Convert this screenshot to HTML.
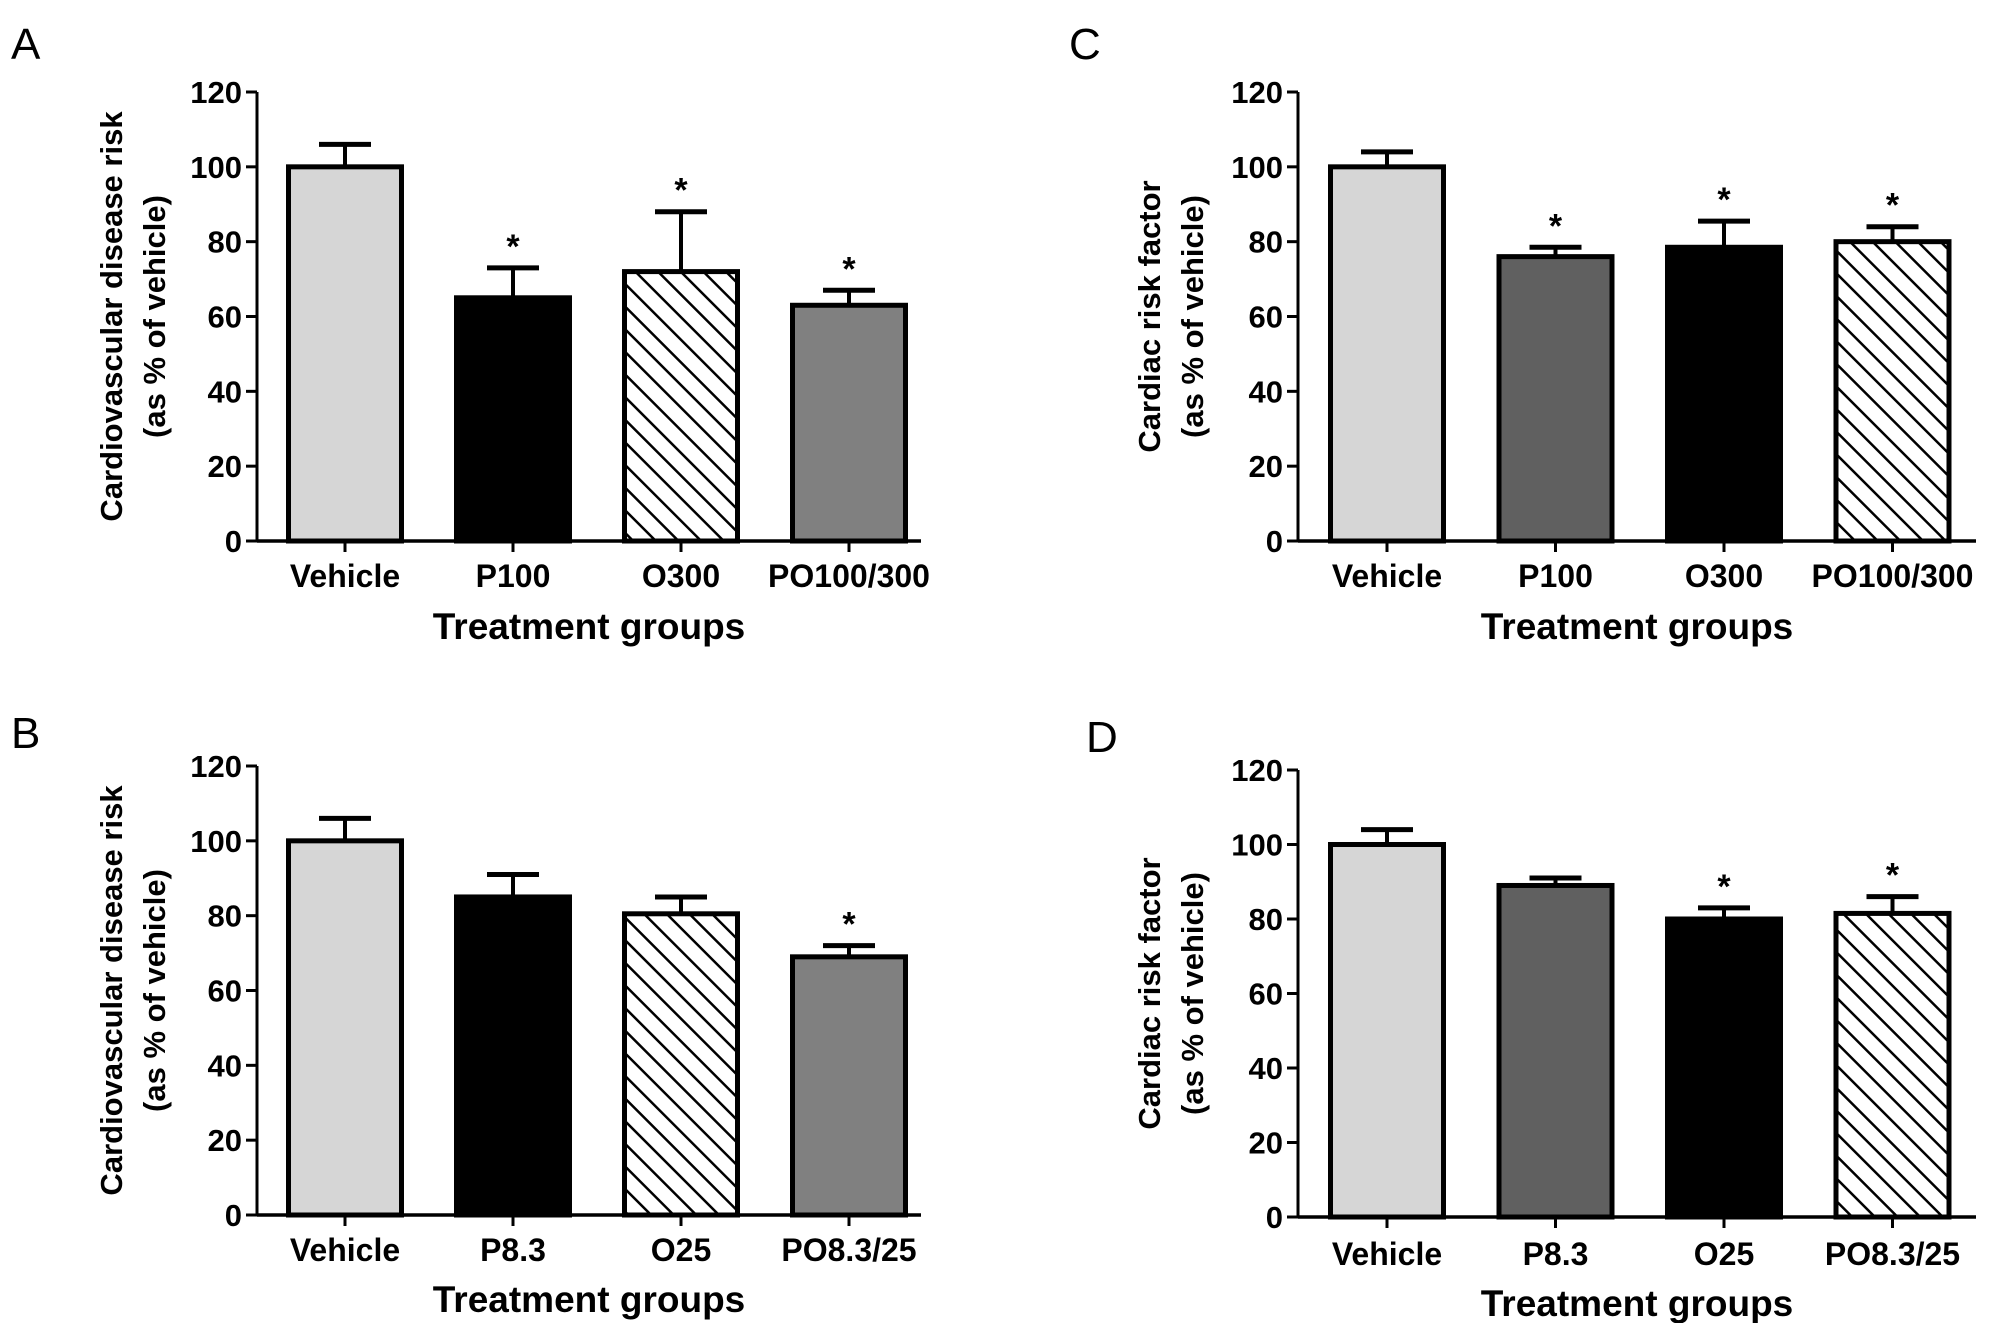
<!DOCTYPE html>
<html><head><meta charset="utf-8">
<style>
html,body{margin:0;padding:0;background:#fff;}
svg{display:block;font-family:"Liberation Sans",Arial,sans-serif;}
</style></head>
<body>
<svg id="fig" width="2008" height="1323" viewBox="0 0 2008 1323" xmlns="http://www.w3.org/2000/svg">
<defs>
<pattern id="hatch" patternUnits="userSpaceOnUse" width="16" height="16" patternTransform="rotate(-45)">
<rect width="16" height="16" fill="#fff"/>
<line x1="0" y1="0" x2="0" y2="16" stroke="#000" stroke-width="5"/>
</pattern>
</defs>
</svg>
<script>
const yTicks = [0,20,40,60,80,100,120];
const catsA = ["Vehicle","P100","O300","PO100/300"];
const valsA = [100,65,72,63];
const errA = [6,8,16,4];
const starA = [false,true,true,true];
const catsB = ["Vehicle","P8.3","O25","PO8.3/25"];
const valsB = [100,85,80.5,69];
const errB = [6,6,4.5,3];
const starB = [false,false,false,true];
const catsC = ["Vehicle","P100","O300","PO100/300"];
const valsC = [100,76,78.5,80];
const errC = [4,2.5,7,4];
const starC = [false,true,true,true];
const catsD = ["Vehicle","P8.3","O25","PO8.3/25"];
const valsD = [100,89,80,81.5];
const errD = [4,2,3,4.5];
const starD = [false,false,true,true];

const NS="http://www.w3.org/2000/svg";
const svg=document.getElementById('fig');
function mk(tag,attrs,parent){const e=document.createElementNS(NS,tag);for(const k in attrs)e.setAttribute(k,attrs[k]);(parent||svg).appendChild(e);return e;}

function panel(cfg){
  const g=mk('g',{});
  
  
  const y=v=>cfg.y0-(v/120)*(cfg.y0-cfg.y120);
  const xc=i=>cfg.firstC+i*cfg.step;
  const L=mk('text',{x:cfg.lx,y:cfg.ly,'font-size':44,fill:'#000'},g);L.textContent=cfg.letter;
  
  
  cfg.vals.forEach((v,i)=>{
    const x=xc(i)-cfg.bw/2;
    const top=y(v), et=y(v+cfg.err[i]);
    const eb=mk('line',{x1:xc(i),x2:xc(i),y1:top,y2:et,stroke:'#000','stroke-width':4},g);
    
    
    const cap=mk('line',{x1:xc(i)-26,x2:xc(i)+26,y1:et,y2:et,stroke:'#000','stroke-width':5},g);
    
    
    const r=mk('rect',{x:x,y:top,width:cfg.bw,height:cfg.y0-top,fill:cfg.fills[i],stroke:'#000','stroke-width':5},g);
    
    
    if(cfg.star[i]){
      const s=mk('text',{x:xc(i),y:et-10,'font-size':34,'font-weight':'bold','text-anchor':'middle'},g);s.textContent='*';
      
      
    }
    const tk=mk('line',{x1:xc(i),x2:xc(i),y1:cfg.y0,y2:cfg.y0+11,stroke:'#000','stroke-width':3},g);
    
    
    const t=mk('text',{x:xc(i),y:cfg.catY+2,'font-size':32,'font-weight':'bold','text-anchor':'middle',fill:'#000'},g);t.textContent=cfg.cats[i];
    
    
  });
  const ya=mk('line',{x1:cfg.ax,x2:cfg.ax,y1:cfg.y120,y2:cfg.y0+1.5,stroke:'#000','stroke-width':3},g);
  
  
  const xa=mk('line',{x1:cfg.ax,x2:cfg.xend,y1:cfg.y0,y2:cfg.y0,stroke:'#000','stroke-width':3.5},g);
  
  
  yTicks.forEach(v=>{
    const tk=mk('line',{x1:cfg.ax-11,x2:cfg.ax,y1:y(v),y2:y(v),stroke:'#000','stroke-width':3},g);
    
    
    const t=mk('text',{x:cfg.ax-15,y:y(v)+11,'font-size':31,'font-weight':'bold','text-anchor':'end'},g);t.textContent=v;
    
    
  });
  const xt=mk('text',{x:(cfg.ax+cfg.xend)/2,y:cfg.titleY+2,'font-size':37,'font-weight':'bold','text-anchor':'middle'},g);xt.textContent='Treatment groups';
  
  
  const cy=(cfg.y0+cfg.y120)/2;
  const yt=mk('text',{transform:`translate(${cfg.yt1},${cy}) rotate(-90)`,'font-size':31,'font-weight':'bold','text-anchor':'middle'},g);yt.textContent=cfg.ytitle;
  
  
  const yt2=mk('text',{transform:`translate(${cfg.yt2},${cy}) rotate(-90)`,'font-size':31,'font-weight':'bold','text-anchor':'middle'},g);yt2.textContent='(as % of vehicle)';
  
  
}
const LG='#d6d6d6', DG='#606060', MG='#808080', BK='#000', HT='url(#hatch)';
const left={ax:257,xend:921,firstC:345,step:168,bw:113,yt1:122,yt2:165};
const right={ax:1298,xend:1976,firstC:1387,step:168.5,bw:113,yt1:1160,yt2:1203};
panel(Object.assign({},left,{letter:'A',lx:11,ly:59,y0:541,y120:92,catY:585,titleY:637,cats:catsA,vals:valsA,err:errA,star:starA,fills:[LG,BK,HT,MG],ytitle:'Cardiovascular disease risk'}));
panel(Object.assign({},left,{letter:'B',lx:11,ly:748,y0:1215,y120:766,catY:1259,titleY:1310,cats:catsB,vals:valsB,err:errB,star:starB,fills:[LG,BK,HT,MG],ytitle:'Cardiovascular disease risk'}));
panel(Object.assign({},right,{letter:'C',lx:1069,ly:59,y0:541,y120:92,catY:585,titleY:637,cats:catsC,vals:valsC,err:errC,star:starC,fills:[LG,DG,BK,HT],ytitle:'Cardiac risk factor'}));
panel(Object.assign({},right,{letter:'D',lx:1086,ly:752,y0:1217,y120:770,catY:1263,titleY:1314,cats:catsD,vals:valsD,err:errD,star:starD,fills:[LG,DG,BK,HT],ytitle:'Cardiac risk factor'}));
</script>
</body></html>
